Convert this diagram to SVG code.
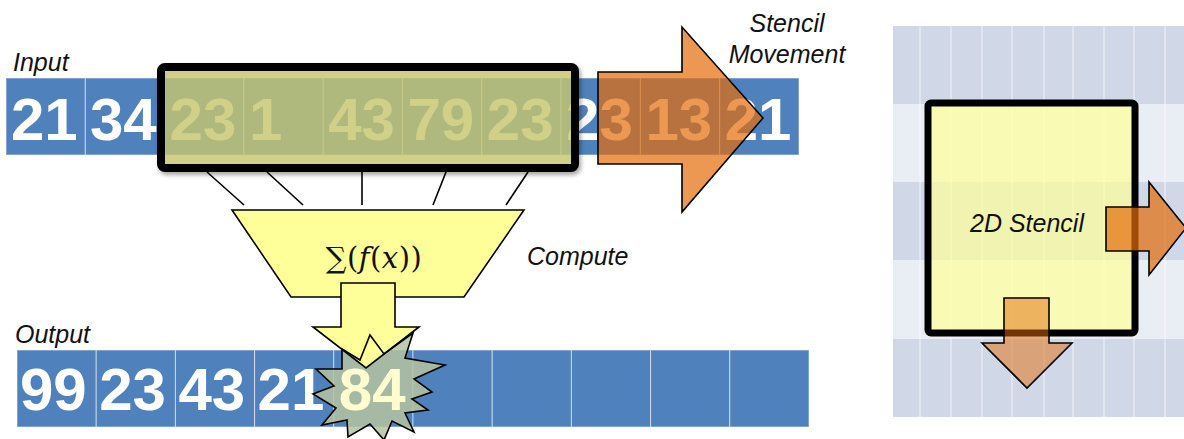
<svg xmlns="http://www.w3.org/2000/svg" width="1184" height="439" viewBox="0 0 1184 439">
  <style>
    .cell { fill: #4f81bd; stroke: #ffffff; stroke-opacity: 0.55; stroke-width: 1; }
    .num { font-family: "Liberation Sans", Arial, sans-serif; font-weight: bold; font-size: 60px; fill: #ffffff; }
    .lbl { font-family: "Liberation Sans", Arial, sans-serif; font-style: italic; font-size: 25px; fill: #111111; }
    .wire { stroke: #000000; stroke-width: 1.6; fill: none; }
    .outline { stroke: #000000; stroke-width: 1.6; stroke-linejoin: miter; }
    .move { fill: #e46c0a; fill-opacity: 0.7; }
    .yel { fill: #ffff99; }
    .gridrow-d { fill: #d0d8e8; }
    .gridrow-l { fill: #e9edf4; }
    .gridline { stroke: #ffffff; stroke-opacity: 0.7; stroke-width: 1; }
  </style>
  <defs>
    <filter id="shadow" x="-5%" y="-10%" width="115%" height="130%">
      <feDropShadow dx="2" dy="3" stdDeviation="2" flood-color="#000000" flood-opacity="0.35"/>
    </filter>
    <polygon id="burst-shape" points="370,335 384,354 413,333 405,358 445,365 414,379 432,392 412,399 428,410 405,413 414,432 392,421 384,440 370,424 348,437 347,420 322,425 336,408 313,394 334,386 316,369 342,369 342,349 360,360"/>
  </defs>

  <!-- input array -->
  <g id="input-row">
    <rect class="cell" x="6" y="78" width="79.3" height="77"/>
    <rect class="cell" x="85.3" y="78" width="79.3" height="77"/>
    <rect class="cell" x="164.6" y="78" width="79.3" height="77"/>
    <rect class="cell" x="243.9" y="78" width="79.3" height="77"/>
    <rect class="cell" x="323.2" y="78" width="79.3" height="77"/>
    <rect class="cell" x="402.5" y="78" width="79.3" height="77"/>
    <rect class="cell" x="481.8" y="78" width="79.3" height="77"/>
    <rect class="cell" x="561.1" y="78" width="79.3" height="77"/>
    <rect class="cell" x="640.4" y="78" width="79.3" height="77"/>
    <rect class="cell" x="719.7" y="78" width="79.3" height="77"/>
    <text class="num" x="11" y="140">21</text>
    <text class="num" x="90" y="140">34</text>
    <text class="num" x="169.6" y="140">23</text>
    <text class="num" x="248.9" y="140">1</text>
    <text class="num" x="328.2" y="140">43</text>
    <text class="num" x="407.5" y="140">79</text>
    <text class="num" x="486.8" y="140">23</text>
    <text class="num" x="566.1" y="140">23</text>
    <text class="num" x="645.4" y="140">13</text>
    <text class="num" x="724.7" y="140">21</text>
    <text class="lbl" x="13" y="71">Input</text>
  </g>

  <!-- 1D stencil window -->
  <g id="stencil-1d">
    <rect x="161" y="67" width="414" height="101" rx="4" fill="#cdcd73" fill-opacity="0.75" stroke="#000000" stroke-width="8" filter="url(#shadow)"/>
  </g>

  <!-- stencil movement arrow -->
  <g id="movement">
    <polygon class="move outline" points="598,72 682,72 682,27 763,118 682,212 682,164 598,164"/>
    <text class="lbl" x="787" y="32" text-anchor="middle">Stencil</text>
    <text class="lbl" x="787" y="63" text-anchor="middle">Movement</text>
  </g>

  <!-- connectors from window cells to compute -->
  <g id="connectors">
    <line class="wire" x1="207" y1="172" x2="244" y2="205"/>
    <line class="wire" x1="267" y1="172" x2="303" y2="205"/>
    <line class="wire" x1="362" y1="172" x2="362" y2="205"/>
    <line class="wire" x1="446" y1="172" x2="433" y2="205"/>
    <line class="wire" x1="528" y1="172" x2="506" y2="205"/>
  </g>

  <!-- compute stage -->
  <g id="compute">
    <polygon class="yel outline" points="232,210 524,210 464,297 291,297"/>
    <text x="374" y="268" text-anchor="middle" font-family="'DejaVu Serif', 'Liberation Serif', serif" font-size="29" letter-spacing="0.5" fill="#111111">∑(<tspan font-style="italic">f</tspan>(<tspan font-style="italic">x</tspan>))</text>
    <text class="lbl" x="527" y="265">Compute</text>
  </g>

  <!-- output array -->
  <g id="output-row">
    <rect class="cell" x="17" y="350" width="79.2" height="77"/>
    <rect class="cell" x="96.2" y="350" width="79.2" height="77"/>
    <rect class="cell" x="175.4" y="350" width="79.2" height="77"/>
    <rect class="cell" x="254.6" y="350" width="79.2" height="77"/>
    <rect class="cell" x="333.8" y="350" width="79.2" height="77"/>
    <rect class="cell" x="413" y="350" width="79.2" height="77"/>
    <rect class="cell" x="492.2" y="350" width="79.2" height="77"/>
    <rect class="cell" x="571.4" y="350" width="79.2" height="77"/>
    <rect class="cell" x="650.6" y="350" width="79.2" height="77"/>
    <rect class="cell" x="729.8" y="350" width="79.2" height="77"/>
    <text class="num" x="20" y="410">99</text>
    <text class="num" x="99.2" y="410">23</text>
    <text class="num" x="178.4" y="410">43</text>
    <text class="num" x="257.6" y="410">21</text>
    <text class="lbl" x="15" y="343">Output</text>
  </g>

  <!-- new value burst with the result arrow landing in it -->
  <g id="burst">
    <use href="#burst-shape" fill="#b4c3a0" fill-opacity="0.85"/>
  </g>
  <g id="result-arrow">
    <polygon class="yel outline" points="341,283 395,283 395,327 419,327 366,368 313,327 341,327"/>
  </g>
  <g id="burst-edge">
    <use href="#burst-shape" fill="none" stroke="#000000" stroke-width="1.6" stroke-linejoin="miter"/>
    <text class="num" x="338.8" y="410" style="fill:#fffdd0">84</text>
  </g>

  <!-- 2D grid -->
  <g id="grid-2d">
    <rect class="gridrow-d" x="893" y="26" width="291" height="78"/>
    <rect class="gridrow-l" x="893" y="104" width="291" height="78"/>
    <rect class="gridrow-d" x="893" y="182" width="291" height="78"/>
    <rect class="gridrow-l" x="893" y="260" width="291" height="79"/>
    <rect class="gridrow-d" x="893" y="339" width="291" height="78"/>
    <line class="gridline" x1="920" y1="26" x2="920" y2="417"/>
    <line class="gridline" x1="951" y1="26" x2="951" y2="417"/>
    <line class="gridline" x1="982" y1="26" x2="982" y2="417"/>
    <line class="gridline" x1="1012" y1="26" x2="1012" y2="417"/>
    <line class="gridline" x1="1044" y1="26" x2="1044" y2="417"/>
    <line class="gridline" x1="1073" y1="26" x2="1073" y2="417"/>
    <line class="gridline" x1="1104" y1="26" x2="1104" y2="417"/>
    <line class="gridline" x1="1134" y1="26" x2="1134" y2="417"/>
    <line class="gridline" x1="1165" y1="26" x2="1165" y2="417"/>
  </g>

  <!-- 2D stencil window -->
  <g id="stencil-2d">
    <rect x="928" y="103" width="207" height="230" rx="3" fill="#ffff99" fill-opacity="0.7" stroke="#000000" stroke-width="7"/>
    <text class="lbl" x="970" y="232">2D Stencil</text>
  </g>

  <!-- 2D movement arrows -->
  <g id="move-right">
    <polygon class="move outline" points="1106,207 1149,207 1149,182 1186,228 1149,275 1149,251 1106,251"/>
  </g>
  <g id="move-down">
    <polygon class="outline" fill="#e46c0a" fill-opacity="0.5" points="1004,298 1049,298 1049,343 1072,343 1027,388 982,343 1004,343"/>
  </g>
</svg>
